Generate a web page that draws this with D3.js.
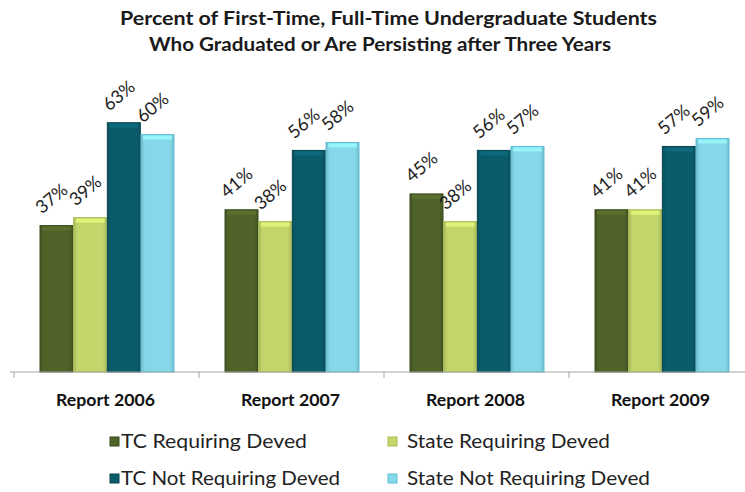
<!DOCTYPE html>
<html><head><meta charset="utf-8">
<script src="https://cdn.jsdelivr.net/npm/d3@7"></script>
<style>body{margin:0;background:#fff;} svg{display:block;}</style>
</head><body>
<svg id="c" width="745" height="492"></svg>
<script>
const categories = ["Report 2006","Report 2007","Report 2008","Report 2009"];
const seriesNames = ["TC Requiring Deved","State Requiring Deved","TC Not Requiring Deved","State Not Requiring Deved"];
const tcRequiring = [37,41,45,41];
const stateRequiring = [39,38,38,41];
const tcNotRequiring = [63,56,56,57];
const stateNotRequiring = [60,58,57,59];
const titleLines = ["Percent of First-Time, Full-Time Undergraduate Students","Who Graduated or Are Persisting after Three Years"];
const colors = ["#4f6228","#c3d66b","#0b5c6b","#84d8ea"];
const edge = ["#3a4a1c","#a8bd52","#07434f","#5fc0d6"];
const seriesValues = [tcRequiring, stateRequiring, tcNotRequiring, stateNotRequiring];

const svg = d3.select("#c");
const font = "Lato, 'Open Sans', 'Liberation Sans', sans-serif";
const base = 372;
const x0 = d3.scaleBand().domain(categories).range([14, 754]);
const x1 = d3.scaleBand().domain(seriesNames).range([26, 160]).paddingInner(0.02);
const y = d3.scaleLinear().domain([0, 70]).range([base, base - 277]);

const defs = svg.append("defs");
colors.forEach((c, i) => {
  const g = defs.append("linearGradient").attr("id", "g" + i).attr("x1", 0).attr("x2", 1).attr("y1", 0).attr("y2", 0);
  g.append("stop").attr("offset", "0%").attr("stop-color", d3.color(c).darker(0.4));
  g.append("stop").attr("offset", "12%").attr("stop-color", c);
  g.append("stop").attr("offset", "88%").attr("stop-color", c);
  g.append("stop").attr("offset", "100%").attr("stop-color", d3.color(c).darker(0.4));
});

// title
const titleX = [120, 149], titleY = [25, 51], titleLen = [537, 462];
svg.append("g").selectAll("text").data(titleLines).join("text")
  .attr("x", (d, i) => titleX[i]).attr("y", (d, i) => titleY[i])
  .attr("font-family", font)
  .attr("font-weight", "bold").attr("font-size", 19).attr("fill", "#1a1a1a")
  .attr("textLength", (d, i) => titleLen[i]).attr("lengthAdjust", "spacingAndGlyphs")
  .text(d => d);

// bars
const groups = svg.append("g").selectAll("g").data(categories).join("g")
  .attr("transform", d => `translate(${x0(d)},0)`);
groups.each(function(cat, ci) {
  const gg = d3.select(this);
  seriesNames.forEach((s, si) => {
    const v = seriesValues[si][ci];
    const bx = x1(s), bw = x1.bandwidth();
    gg.append("rect").attr("x", bx).attr("y", y(v)).attr("width", bw).attr("height", base - y(v))
      .attr("fill", `url(#g${si})`).attr("stroke", edge[si]).attr("stroke-width", 1);
    gg.append("rect").attr("x", bx + 2).attr("y", y(v) + 1).attr("width", bw - 4).attr("height", 4)
      .attr("fill", d3.color(colors[si]).brighter(0.5)).attr("opacity", 0.7);
    gg.append("text")
      .attr("transform", `translate(${bx + 2},${y(v) - 11}) rotate(-40)`)
      .attr("font-family", font).attr("font-size", 18).attr("fill", "#222")
      .text(v + "%");
  });
});

// axis
const axis = svg.append("g").attr("transform", `translate(0,${base})`);
axis.append("line").attr("x1", 10).attr("x2", 745).attr("stroke", "#a6a6a6").attr("stroke-width", 1.2);
axis.selectAll("line.t").data(categories).join("line").attr("class", "t")
  .attr("x1", d => x0(d)).attr("x2", d => x0(d)).attr("y1", 0).attr("y2", 6)
  .attr("stroke", "#a6a6a6");
axis.selectAll("text").data(categories).join("text")
  .attr("x", d => x0(d) + x0.bandwidth() / 2 - 1).attr("y", 34)
  .attr("text-anchor", "middle").attr("font-family", font).attr("font-weight", "bold")
  .attr("font-size", 17).attr("fill", "#111")
  .attr("textLength", 99).attr("lengthAdjust", "spacingAndGlyphs").text(d => d);

// legend
const legPos = [[110, 448], [388, 448], [110, 485], [388, 485]];
const legLen = [186, 203, 219, 243];
const legOff = [11, 19, 11, 19];
const leg = svg.append("g").selectAll("g").data(seriesNames).join("g")
  .attr("transform", (d, i) => `translate(${legPos[i][0]},${legPos[i][1]})`);
leg.append("rect").attr("x", 0).attr("y", -11).attr("width", 9).attr("height", 9)
  .attr("fill", (d, i) => colors[i]).attr("stroke", (d, i) => edge[i]);
leg.append("text").attr("x", (d, i) => legOff[i]).attr("y", 0).attr("font-family", font)
  .attr("font-size", 19).attr("fill", "#222")
  .attr("textLength", (d, i) => legLen[i]).attr("lengthAdjust", "spacingAndGlyphs").text(d => d);
</script>
</body></html>
